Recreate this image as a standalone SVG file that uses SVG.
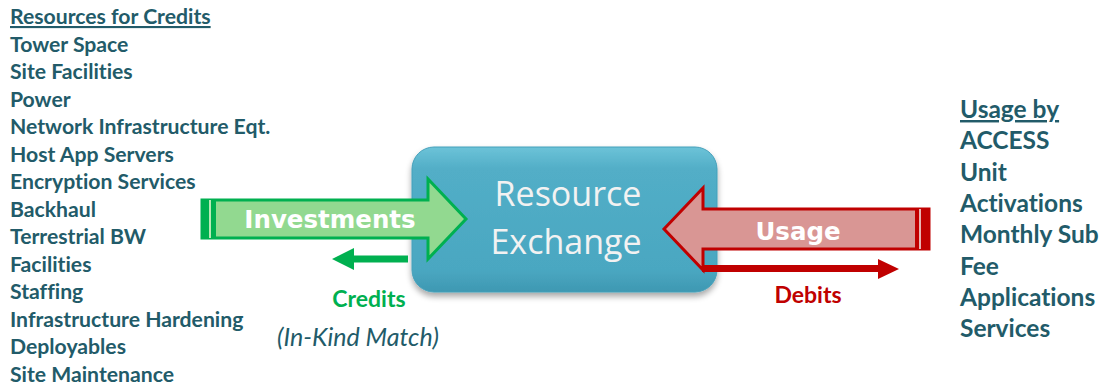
<svg xmlns="http://www.w3.org/2000/svg" width="1104" height="386" viewBox="0 0 1104 386">
  <style>
    text { font-variant-ligatures: none; }
    .list { font-family: Lato, "Liberation Sans", sans-serif; font-weight: bold; fill: #225B69; }
    .left { font-size: 21.2px; }
    .right { font-size: 24.5px; }
    .head { text-decoration: underline; }
    .arrowLabel { font-family: "DejaVu Sans", Verdana, sans-serif; font-weight: bold; font-size: 24.5px; fill: #FFFFFF; text-anchor: middle; }
    .hub { font-family: "Open Sans", "Liberation Sans", sans-serif; font-size: 34px; fill: #F2F2F2; text-anchor: middle; }
    .flow { font-family: Lato, "Liberation Sans", sans-serif; font-weight: bold; font-size: 23px; text-anchor: middle; }
  </style>
  <defs>
    <linearGradient id="hubFill" x1="0" y1="0" x2="0" y2="1">
      <stop offset="0" stop-color="#6CC3D8"/>
      <stop offset="0.15" stop-color="#52AEC7"/>
      <stop offset="0.85" stop-color="#4AA7C1"/>
      <stop offset="1" stop-color="#3E98B2"/>
    </linearGradient>
    <filter id="shadow" x="-10%" y="-10%" width="120%" height="130%">
      <feGaussianBlur in="SourceAlpha" stdDeviation="3"/>
      <feOffset dx="0" dy="4" result="b"/>
      <feComponentTransfer><feFuncA type="linear" slope="0.35"/></feComponentTransfer>
      <feMerge><feMergeNode/><feMergeNode in="SourceGraphic"/></feMerge>
    </filter>
  </defs>

  <rect width="1104" height="386" fill="#FFFFFF"/>

  <!-- Resources list -->
  <g id="resources">
    <text class="list left" x="10" y="24"><tspan class="head">Resources for Credits</tspan></text>
    <text class="list left" x="10" y="52">Tower Space</text>
    <text class="list left" x="10" y="79">Site Facilities</text>
    <text class="list left" x="10" y="107">Power</text>
    <text class="list left" x="10" y="134">Network Infrastructure Eqt.</text>
    <text class="list left" x="10" y="162">Host App Servers</text>
    <text class="list left" x="10" y="189">Encryption Services</text>
    <text class="list left" x="10" y="217">Backhaul</text>
    <text class="list left" x="10" y="244">Terrestrial BW</text>
    <text class="list left" x="10" y="272">Facilities</text>
    <text class="list left" x="10" y="299">Staffing</text>
    <text class="list left" x="10" y="327">Infrastructure Hardening</text>
    <text class="list left" x="10" y="354">Deployables</text>
    <text class="list left" x="10" y="382">Site Maintenance</text>
  </g>

  <!-- Usage list -->
  <g id="usage-list">
    <text class="list right" x="960" y="118"><tspan class="head">Usage by</tspan></text>
    <text class="list right" x="960" y="149">ACCESS</text>
    <text class="list right" x="960" y="181">Unit</text>
    <text class="list right" x="960" y="212">Activations</text>
    <text class="list right" x="960" y="243">Monthly Sub</text>
    <text class="list right" x="960" y="275">Fee</text>
    <text class="list right" x="960" y="306">Applications</text>
    <text class="list right" x="960" y="337">Services</text>
  </g>

  <!-- Central exchange -->
  <g id="exchange">
    <rect x="412" y="147" width="305" height="145" rx="22" fill="url(#hubFill)" stroke="#45A0BA" stroke-width="1" filter="url(#shadow)"/>
    <text class="hub" x="568" y="206">Resource</text>
    <text class="hub" x="566" y="254">Exchange</text>
  </g>

  <g id="connectors">
    <!-- Investments arrow -->
    <g id="investments">
      <path d="M202,200 H428 V179 L466,219 L428,259 V238 H202 Z" fill="#92D990" stroke="#00B050" stroke-width="3" stroke-linejoin="miter"/>
      <rect x="201" y="199" width="15" height="40" fill="#00B050"/>
      <rect x="209" y="200" width="2" height="38" fill="#B8E8B6"/>
      <text class="arrowLabel" x="330" y="228">Investments</text>
    </g>
    <!-- Credits return arrow -->
    <g id="credits">
      <path d="M408,255.5 H354 V248 L332,259 L354,270 V262.5 H408 Z" fill="#00B050"/>
      <text class="flow" x="369" y="307" fill="#00B050">Credits</text>
      <text x="358" y="346" font-family="Lato, 'Liberation Sans', sans-serif" font-style="italic" font-size="25" fill="#225B69" text-anchor="middle">(In-Kind Match)</text>
    </g>
    <!-- Usage arrow -->
    <g id="usage">
      <path d="M929,209 H703 V188 L664,229 L703,270 V249 H929 Z" fill="#D99694" stroke="#C00000" stroke-width="3" stroke-linejoin="miter"/>
      <rect x="915" y="208" width="15" height="42" fill="#C00000"/>
      <rect x="919" y="209" width="2" height="40" fill="#E8B4B2"/>
      <text class="arrowLabel" x="798" y="240">Usage</text>
    </g>
    <!-- Debits arrow -->
    <g id="debits">
      <path d="M702,265 H878 V259 L899,269 L878,279 V272 H702 Z" fill="#C00000"/>
      <text class="flow" x="808" y="303" fill="#C00000">Debits</text>
    </g>
  </g>
</svg>
